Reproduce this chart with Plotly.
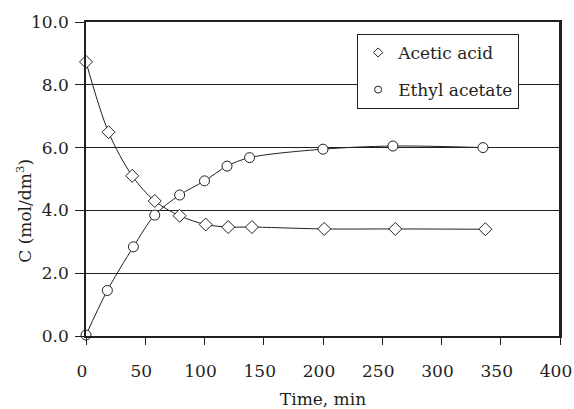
import plotly.graph_objects as go

# Concentration vs. time for the esterification run
t_acid = [0, 19, 39, 58, 79, 101, 120, 140, 201, 261, 337]
c_acid = [8.73, 6.49, 5.10, 4.30, 3.83, 3.55, 3.47, 3.47, 3.41, 3.41, 3.40]

t_ester = [0, 18, 40, 58, 79, 100, 119, 138, 200, 259, 335]
c_ester = [0.03, 1.45, 2.84, 3.85, 4.49, 4.94, 5.41, 5.68, 5.95, 6.05, 6.00]

series_names = ["Acetic acid", "Ethyl acetate"]
x_ticks = [0, 50, 100, 150, 200, 250, 300, 350, 400]
y_ticks = [0, 2, 4, 6, 8, 10]

FONT = "DejaVu Serif"
FS = 17
INK = "#231f20"

fig = go.Figure()

# smooth curves with open markers
for t, c, sym in [(t_acid, c_acid, "diamond"), (t_ester, c_ester, "circle")]:
    fig.add_trace(go.Scatter(
        x=t, y=c, mode="lines+markers",
        line=dict(color=INK, width=1, shape="spline", smoothing=0.9),
        marker=dict(symbol=sym, size=10, color="white",
                    line=dict(color=INK, width=1)),
        showlegend=False, cliponaxis=False,
    ))

# legend entries (markers only)
for i, (name, sym) in enumerate(zip(series_names, ["diamond", "circle"])):
    fig.add_trace(go.Scatter(
        x=[None], y=[None], mode="markers", name=name,
        marker=dict(symbol=sym, size=7, color="white",
                    line=dict(color=INK, width=1)),
        legendgroup=f"g{i}",
    ))

fig.update_layout(
    width=574, height=409,
    margin=dict(l=86, r=14, t=22, b=73, autoexpand=False),
    paper_bgcolor="white", plot_bgcolor="white",
    font=dict(family=FONT, size=FS, color=INK),
    legend=dict(
        x=0.572, y=0.962, xanchor="left", yanchor="top",
        bgcolor="white", bordercolor=INK, borderwidth=1,
        font=dict(size=FS, family=FONT), traceorder="grouped",
        tracegroupgap=12, itemwidth=30,
    ),
    xaxis=dict(
        range=[0, 400], tickvals=x_ticks, ticks="outside", ticklen=7,
        tickcolor=INK, showline=True, linecolor=INK, linewidth=2,
        mirror=True, showgrid=False, zeroline=False, automargin=False,
        ticklabelstandoff=12, ticklabelshift=-4, ticklabeloverflow="allow",
        tickfont=dict(family=FONT, size=FS),
        title=dict(text="Time, min", standoff=22,
                   font=dict(size=FS, family=FONT)),
    ),
    yaxis=dict(
        range=[0, 10], tickvals=y_ticks, tickformat=".1f", ticks="outside",
        ticklen=9, tickcolor=INK, showline=True, linecolor=INK, linewidth=1.5,
        mirror=True, showgrid=True, gridcolor=INK, gridwidth=1,
        zeroline=False, automargin=False, ticklabelstandoff=3,
        tickfont=dict(family=FONT, size=FS),
    ),
    # right-hand edge of the plot frame
    shapes=[dict(type="line", xref="paper", yref="paper", x0=1, x1=1,
                 y0=0, y1=1, line=dict(color=INK, width=2), layer="above")],
    annotations=[dict(
        text="C (mol/dm<sup>3</sup>)", textangle=-90,
        xref="paper", yref="paper", x=-0.13, y=0.40,
        xanchor="center", yanchor="middle", showarrow=False,
        font=dict(size=FS, family=FONT, color=INK),
    )],
)

# keep the page free of scrollbars so the full figure is visible
page_css = ("document.documentElement.style.overflow='hidden';"
            "document.body.style.overflow='hidden';"
            "document.body.style.margin='0';")

fig.write_html("out.html", post_script=page_css)
